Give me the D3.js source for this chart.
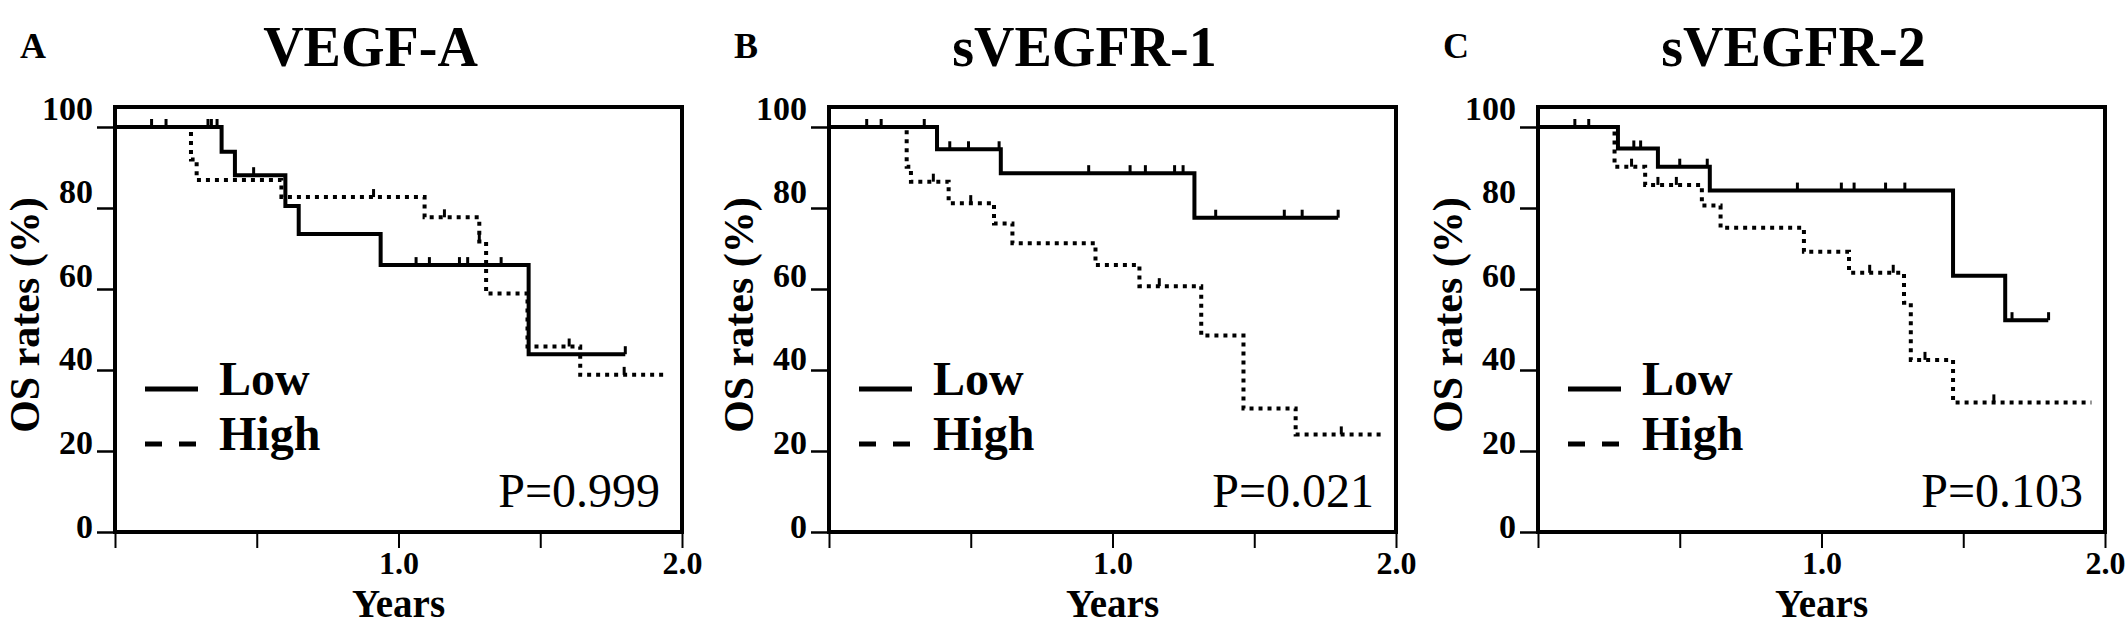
<!DOCTYPE html>
<html>
<head>
<meta charset="utf-8">
<script src="https://cdn.jsdelivr.net/npm/d3@7"></script>
<style>
  body { margin: 0; background: #fff; }
  svg text { font-family: "Liberation Serif", "Times New Roman", serif; fill: #000; }
</style>
</head>
<body>
<div id="chart"></div>
<script>
// Panel info
const panelLetters = ["A", "B", "C"];
const panelTitles = ["VEGF-A", "sVEGFR-1", "sVEGFR-2"];
const pValues = ["P=0.999", "P=0.021", "P=0.103"];
const seriesNames = ["Low", "High"];
const yTicks = [0, 20, 40, 60, 80, 100];
const xTicks = [0, 0.5, 1.0, 1.5, 2.0];
const xLabels = ["", "", "1.0", "", "2.0"];

// A: VEGF-A
const aLowTimes = [0, 0.376, 0.423, 0.601, 0.648, 0.937, 1.459];
const aLowSurv = [100, 93.9, 88.1, 80.5, 73.6, 65.9, 43.9];
const aLowEnd = 1.80;
const aLowCensor = [0.129, 0.180, 0.328, 0.340, 0.360, 0.489, 1.062, 1.109, 1.215, 1.244, 1.362, 1.80];
const aHighTimes = [0, 0.268, 0.288, 0.587, 1.092, 1.285, 1.309, 1.455, 1.641];
const aHighSurv = [100, 92.0, 86.9, 82.7, 77.7, 71.7, 58.9, 45.8, 38.8];
const aHighEnd = 1.944;
const aHighCensor = [0.912, 1.162, 1.285, 1.602, 1.796];

// B: sVEGFR-1
const bLowTimes = [0, 0.381, 0.606, 1.289];
const bLowSurv = [100, 94.5, 88.6, 77.6];
const bLowEnd = 1.796;
const bLowCensor = [0.133, 0.184, 0.336, 0.426, 0.492, 0.600, 0.916, 1.062, 1.116, 1.219, 1.249, 1.289, 1.364, 1.606, 1.669, 1.796];
const bHighTimes = [0, 0.274, 0.289, 0.422, 0.582, 0.647, 0.940, 1.095, 1.313, 1.462, 1.646];
const bHighSurv = [100, 90.2, 86.5, 81.2, 76.2, 71.3, 65.9, 60.7, 48.5, 30.5, 24.1];
const bHighEnd = 1.954;
const bHighCensor = [0.368, 0.500, 1.165, 1.807];

// C: sVEGFR-2
const cLowTimes = [0, 0.282, 0.423, 0.606, 1.464, 1.648];
const cLowSurv = [100, 94.7, 90.2, 84.3, 63.3, 52.3];
const cLowEnd = 1.80;
const cLowCensor = [0.130, 0.179, 0.338, 0.362, 0.500, 0.597, 0.915, 1.070, 1.115, 1.226, 1.294, 1.672, 1.801];
const cHighTimes = [0, 0.270, 0.378, 0.578, 0.644, 0.938, 1.097, 1.291, 1.315, 1.464];
const cHighSurv = [100, 90.2, 85.7, 80.6, 75.1, 69.2, 64.0, 56.6, 42.5, 32.0];
const cHighEnd = 1.952;
const cHighCensor = [0.330, 0.423, 0.488, 1.170, 1.253, 1.365, 1.608];

const panelData = [
    [[aLowTimes, aLowSurv, aLowEnd, aLowCensor], [aHighTimes, aHighSurv, aHighEnd, aHighCensor]],
    [[bLowTimes, bLowSurv, bLowEnd, bLowCensor], [bHighTimes, bHighSurv, bHighEnd, bHighCensor]],
    [[cLowTimes, cLowSurv, cLowEnd, cLowCensor], [cHighTimes, cHighSurv, cHighEnd, cHighCensor]]
];

const W = 2126, H = 627;
const panelLeft = [115, 829, 1538];
const plotW = 567;
const plotTop = 107, plotBottom = 532;
const dashStyle = "4,5";

const svg = d3.select("#chart")
    .append("svg")
    .attr("width", W)
    .attr("height", H);

const x = d3.scaleLinear().domain([0, 2]).range([0, plotW]);
const y = d3.scaleLinear().domain([0, 100]).range([plotBottom, plotBottom - 405]);

panelLetters.forEach((letter, i) => {
    const g = svg.append("g").attr("transform", `translate(${panelLeft[i]},0)`);

    // panel letter + title
    g.append("text").attr("x", -95).attr("y", 58)
        .attr("font-size", 36).attr("font-weight", "bold").text(letter);
    g.append("text").attr("x", plotW / 2 - 28).attr("y", 66)
        .attr("text-anchor", "middle").attr("font-size", 56).attr("font-weight", "bold")
        .text(panelTitles[i]);

    // y axis
    const yAxis = g.append("g")
        .call(d3.axisLeft(y).tickValues(yTicks).tickSize(18).tickFormat(d3.format("d")));
    yAxis.select(".domain").remove();
    yAxis.selectAll(".tick line").attr("stroke-width", 2.5);
    yAxis.selectAll(".tick text")
        .attr("x", -22)
        .attr("dy", d => (-8 + 13 * (1 - d / 100)) + "px")
        .attr("font-size", 34).attr("font-weight", "bold")
        .attr("font-family", "Liberation Serif");

    // x axis
    const xAxis = g.append("g")
        .attr("transform", `translate(0,${plotBottom})`)
        .call(d3.axisBottom(x).tickValues(xTicks).tickSize(16)
            .tickFormat((d, k) => xLabels[k]));
    xAxis.select(".domain").remove();
    xAxis.selectAll(".tick line").attr("stroke-width", 2);
    xAxis.selectAll(".tick text")
        .attr("y", 42).attr("dy", 0)
        .attr("font-size", 32).attr("font-weight", "bold")
        .attr("font-family", "Liberation Serif");

    // frame
    g.append("rect")
        .attr("x", 0).attr("y", plotTop)
        .attr("width", plotW).attr("height", plotBottom - plotTop)
        .attr("fill", "none").attr("stroke", "#000").attr("stroke-width", 4);

    // axis titles
    g.append("text")
        .attr("transform", `translate(-76,315) rotate(-90)`)
        .attr("text-anchor", "middle").attr("font-size", 42).attr("font-weight", "bold")
        .text("OS rates (%)");
    g.append("text").attr("x", plotW / 2).attr("y", 617)
        .attr("text-anchor", "middle").attr("font-size", 39).attr("font-weight", "bold")
        .text("Years");

    // curves
    panelData[i].forEach((s, k) => {
        const [times, surv, end, censor] = s;
        const pts = times.map((t, j) => [t, surv[j]]);
        pts.push([end, surv[surv.length - 1]]);
        const line = d3.line()
            .x(d => x(d[0]))
            .y(d => y(d[1]))
            .curve(d3.curveStepAfter);
        g.append("path")
            .datum(pts)
            .attr("d", line)
            .attr("fill", "none")
            .attr("stroke", "#000")
            .attr("stroke-width", 4)
            .attr("stroke-dasharray", k === 1 ? dashStyle : null);

        // censor marks
        g.selectAll(null)
            .data(censor)
            .enter()
            .append("line")
            .attr("x1", d => x(d)).attr("x2", d => x(d))
            .attr("y1", d => y(surv[d3.bisectRight(times, d) - 1]))
            .attr("y2", d => y(surv[d3.bisectRight(times, d) - 1]) - 8)
            .attr("stroke", "#000")
            .attr("stroke-width", 3);
    });

    // legend
    const legY = [389, 444];
    seriesNames.forEach((name, k) => {
        g.append("line")
            .attr("x1", 30).attr("x2", 83)
            .attr("y1", legY[k]).attr("y2", legY[k])
            .attr("stroke", "#000").attr("stroke-width", 5)
            .attr("stroke-dasharray", k === 1 ? "17,17" : null);
        g.append("text").attr("x", 104).attr("y", legY[k] + 6)
            .attr("font-size", 48).attr("font-weight", "bold").text(name);
    });

    // p value
    g.append("text").attr("x", plotW - 22).attr("y", 507)
        .attr("text-anchor", "end").attr("font-size", 48)
        .text(pValues[i]);
});
</script>
</body>
</html>
